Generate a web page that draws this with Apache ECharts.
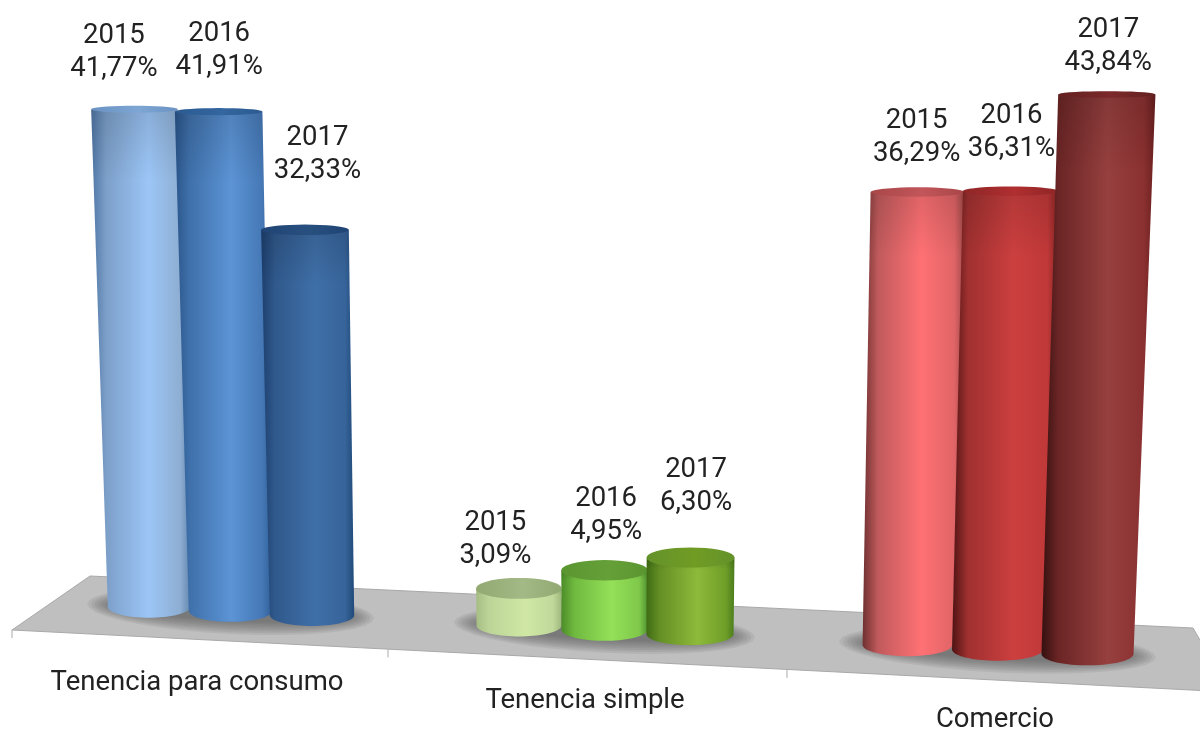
<!DOCTYPE html>
<html><head><meta charset="utf-8">
<style>html,body{margin:0;padding:0;background:#fff}#c{width:1200px;height:731px}</style>
<script src="https://cdn.jsdelivr.net/npm/echarts@6/dist/echarts.min.js"></script>
</head><body><div id="c"></div>
<script>
// ---- data ----
var categories = ['Tenencia para consumo', 'Tenencia simple', 'Comercio'];
var years = ['2015', '2016', '2017'];
var values2015 = [41.77, 3.09, 36.29];
var values2016 = [41.91, 4.95, 36.31];
var values2017 = [32.33, 6.30, 43.84];

// ---- colours: five body stops, then top rim and top centre, per year per category ----
var palette = [
  [['#4f76a5','#7c9fc8','#9cc6f7','#8eaed2','#6488b0','#6a92c2','#7ea6d4'],
   ['#2a558a','#3f70aa','#5c94d6','#4578b5','#2f5f98','#2a5a90','#34669f'],
   ['#1d3f6e','#30598c','#3f6fa8','#37649a','#1f4a7a','#1f4475','#28507f']],
  [['#a6bd84','#bcd497','#d0e8a4','#c0d89a','#9fb87e','#93a972','#a3b986'],
   ['#4c8c28','#6fb93f','#94e058','#7fc84a','#4f9030','#5a9630','#659f38'],
   ['#3f6c14','#648f25','#8dba3a','#6f9e28','#4a7c1c','#64922a','#709c24']],
  [['#6e3030','#c05a5c','#ff7174','#e06466','#a04848','#a84648','#c2565a'],
   ['#4f1313','#a03030','#cc3f3f','#c03838','#8a2424','#8e2526','#b02f30'],
   ['#351010','#6b2525','#96403f','#8a3030','#6a1f1f','#63201f','#7c2a2b']]
];

// ---- perspective layout ----
var BAR_SHIFT = [22.5, 4.5, 5.5];      // bars sit off the band centre by depth
var BAR_PITCH = [81.5, 85.5, 90];
var WIDTH_EXTRA = [3, 1, 1];
var CAT_LABEL_DX = [-11, -15, 3];
var CAT_LABEL_DY = [73, 91, 110];
var TICK_DX = [0, -16, -9];
var LABEL_DX = [[-20.5, 0.5, 12.5], [-23.5, 1.5, 5.5], [-1, 1, 1.5]];
var LABEL_DY = [[-53.5, -57, -69.5], [-38, -44, -60.5], [-50, -54, -44.5]];
var FONT = 'Roboto, "Noto Sans", sans-serif';

function floorY(x, y0) { return y0 + 0.05 * (x - 210); }
function nearEdgeY(x, y0) { return y0 + 20 + 0.0515 * (x - 12); }
function ellipseRy(y) { return 3.5 + (y - 110) * 0.0146; }
function heightScale(x) { return x < 600 ? (x < 400 ? 0.993 : 1) : 1 + 1.3e-4 * (x - 600); }
function arc(cx, cy, rx, ry, a0, a1, tilt) {
  var pts = [], n = 36;
  for (var i = 0; i <= n; i++) {
    var a = a0 + (a1 - a0) * i / n;
    var dx = rx * Math.cos(a);
    pts.push([cx + dx, cy + ry * Math.sin(a) + (tilt || 0) * dx]);
  }
  return pts;
}
function hGrad(c) {
  return new echarts.graphic.LinearGradient(0, 0, 1, 0, [
    {offset: 0, color: c[0]}, {offset: 0.15, color: c[1]}, {offset: 0.58, color: c[2]},
    {offset: 0.9, color: c[3]}, {offset: 1, color: c[4]}
  ]);
}
function hGradTop(c) {
  return new echarts.graphic.LinearGradient(0, 0, 1, 0, [
    {offset: 0, color: c[5]}, {offset: 0.55, color: c[6]}, {offset: 1, color: c[5]}
  ]);
}
var topShade = new echarts.graphic.LinearGradient(0, 0, 0, 1, [
  {offset: 0, color: 'rgba(0,0,0,0.12)'}, {offset: 0.14, color: 'rgba(0,0,0,0)'}, {offset: 1, color: 'rgba(0,0,0,0)'}
]);

function barRenderer(yearIdx) {
  return function (params, api) {
    var g = api.value(0), v = api.value(1);
    var base = api.coord([g, 0]);
    var unit = base[1] - api.coord([g, v])[1];
    var xf = base[0] + BAR_SHIFT[g] + (yearIdx - 1) * BAR_PITCH[g];
    var yf = floorY(xf, base[1]);
    var h = unit * heightScale(xf);
    var yt = yf - h;
    var wf = 77.5 + 0.0125 * xf + WIDTH_EXTRA[g];
    var xt = xf + (xf - 580) * h * 6.8e-5;
    var wt = wf * (1 + h * 1e-4);
    var rb = ellipseRy(yf), rt = ellipseRy(yt);
    var col = palette[g][yearIdx];
    var body = [[xt - wt / 2, yt]].concat(arc(xf, yf, wf / 2, rb, Math.PI, 0)).concat([[xt + wt / 2, yt]]);
    var txt = years[yearIdx] + '\n' + v.toFixed(2).replace('.', ',') + '%';
    return {type: 'group', children: [
      {type: 'polygon', shape: {points: body}, style: {fill: hGrad(col)}},
      {type: 'polygon', shape: {points: body}, style: {fill: topShade}},
      {type: 'polygon', shape: {points: arc(xt, yt, wt / 2, rt, 0, Math.PI * 2)}, style: {fill: hGradTop(col)}},
      {type: 'text', z2: 10, style: {
        text: txt, x: xt + LABEL_DX[g][yearIdx], y: yt - rt + LABEL_DY[g][yearIdx],
        align: 'center', verticalAlign: 'middle', fontSize: 27.5, lineHeight: 33,
        fontFamily: FONT, fill: '#222222'
      }}
    ]};
  };
}

function floorRenderer(params, api) {
  var base = api.coord([0, 0]);
  var band = api.size([1, 0])[0];
  var left = base[0] - band / 2;
  var y0 = base[1];
  var pts = [
    [left + 78, y0 - 34],
    [left + 1181, y0 + 18],
    [left + 1218, y0 + 82],
    [left, y0 + 20]
  ];
  return {type: 'polygon', shape: {points: pts}, style: {fill: '#bfbfc0', stroke: '#a9a9a9', lineWidth: 1}};
}
function shadowRenderer(params, api) {
  var g = api.value(0);
  var base = api.coord([g, 0]);
  var xc = base[0] + BAR_SHIFT[g];
  var yc = floorY(xc, base[1]);
  var layers = [], n = 8;
  for (var i = 0; i < n; i++) {
    var t = i / (n - 1);
    var rx = BAR_PITCH[g] * (1.76 - 0.3 * t);
    var ry = 23 - 13 * t;
    layers.push({type: 'polygon',
      shape: {points: arc(xc, yc, rx, ry, 0, Math.PI * 2, 0.05)},
      style: {fill: 'rgba(64,64,64,0.09)'}});
  }
  return {type: 'group', children: layers};
}
function axisRenderer(params, api) {
  var g = api.value(0);
  var base = api.coord([g, 0]);
  var band = api.size([1, 0])[0];
  var tx = base[0] - band / 2 + TICK_DX[g];
  var ty = nearEdgeY(tx, base[1]);
  return {type: 'group', children: [
    {type: 'line', shape: {x1: tx, y1: ty, x2: tx, y2: ty + 8}, style: {stroke: '#aaaaaa', lineWidth: 1}},
    {type: 'text', style: {
      text: categories[g], x: base[0] + CAT_LABEL_DX[g], y: base[1] + CAT_LABEL_DY[g],
      align: 'center', verticalAlign: 'middle', fontSize: 27.5, fontFamily: FONT, fill: '#222222'
    }}
  ]};
}
function rows(vals) { return vals.map(function (v, i) { return [i, v]; }); }

var common = {type: 'custom', coordinateSystem: 'cartesian2d', clip: false, silent: true,
              encode: {x: 0, y: 1}, animation: false};
function mk(name, z, render, data) {
  return Object.assign({}, common, {name: name, z: z, renderItem: render, data: data});
}
var chart = echarts.init(document.getElementById('c'), null, {renderer: 'canvas'});
chart.setOption({
  animation: false,
  backgroundColor: '#ffffff',
  grid: {left: 12, right: 12, top: 10, height: 600},
  xAxis: {type: 'category', data: categories, show: false},
  yAxis: {type: 'value', min: 0, max: 50, show: false},
  series: [
    mk('floor', 1, floorRenderer, [[0, 0]]),
    mk('axis', 2, axisRenderer, rows([0, 0, 0])),
    mk('shadow', 3, shadowRenderer, rows([0, 0, 0])),
    mk(years[0], 4, barRenderer(0), rows(values2015)),
    mk(years[1], 5, barRenderer(1), rows(values2016)),
    mk(years[2], 6, barRenderer(2), rows(values2017))
  ]
});
</script></body></html>
